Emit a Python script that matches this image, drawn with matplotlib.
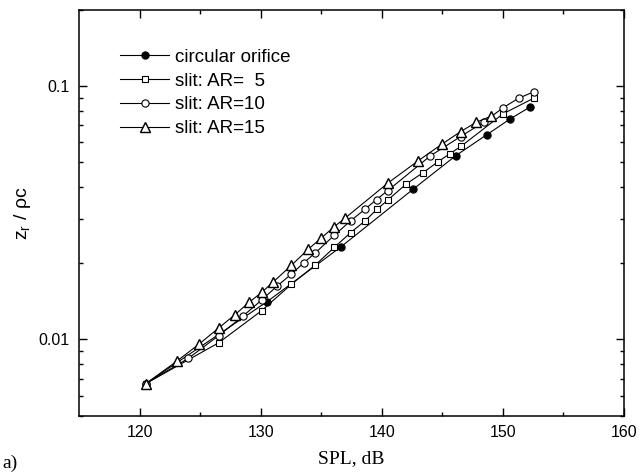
import numpy as np
import matplotlib
matplotlib.use("Agg")
import matplotlib.pyplot as plt
from matplotlib.ticker import LogLocator, NullFormatter, FixedLocator

# -----------------------------
# Data
# -----------------------------

spl_circ = [120.5, 130.5, 136.6, 142.6, 146.1, 148.65, 150.6, 152.2]
z_circ = [0.0067, 0.0141, 0.0232, 0.0393, 0.0532, 0.0643, 0.0743, 0.0826]

spl_ar5 = [120.5, 126.5, 130.06, 132.5, 134.5, 136.06, 137.4, 138.6, 139.6,
           140.47, 142.0, 143.4, 144.6, 145.6, 146.55, 150.0, 152.6]
z_ar5 = [0.0067, 0.0097, 0.0130, 0.0165, 0.0197, 0.0231, 0.0264, 0.0294, 0.0327,
         0.0355, 0.0411, 0.0456, 0.0502, 0.0541, 0.0580, 0.0778, 0.0900]

spl_ar10 = [120.5, 124.0, 126.5, 128.5, 130.06, 131.3, 132.5, 133.55, 134.5, 136.06,
            137.4, 138.6, 139.55, 140.47, 144.0, 146.5, 148.4, 150.0, 151.3, 152.6]
z_ar10 = [0.0067, 0.00843, 0.01035, 0.01236, 0.01432, 0.0162, 0.0181, 0.0201, 0.0220, 0.0258,
          0.0294, 0.0327, 0.0357, 0.0387, 0.0531, 0.0633, 0.0721, 0.0822, 0.0897, 0.0953]

spl_ar15 = [120.5, 123.03, 124.9, 126.5, 127.85, 129.0, 130.06, 130.97, 132.5, 133.9,
            135.0, 136.06, 136.97, 140.47, 143.0, 144.96, 146.5, 147.8, 149.0]
z_ar15 = [0.0067, 0.0082, 0.0096, 0.0111, 0.01253, 0.0140, 0.01535, 0.0168, 0.0196, 0.0227,
          0.0252, 0.0279, 0.0302, 0.0414, 0.0508, 0.0591, 0.0662, 0.0721, 0.0761]

labels = ["circular orifice", "slit: AR=  5", "slit: AR=10", "slit: AR=15"]

# -----------------------------
# Figure
# -----------------------------

fig = plt.figure(figsize=(6.39, 4.74), dpi=100)
ax = fig.add_axes([0.1244, 0.1230, 0.8521, 0.8559])

ms = 5.2
mew = 0.8
lw = 0.8

ax.plot(spl_circ, z_circ, '-', color='black', lw=lw, marker='o', ms=ms,
        mfc='black', mec='black', mew=mew, label=labels[0])
ax.plot(spl_ar5, z_ar5, '-', color='black', lw=lw, marker='s', ms=ms * 0.95,
        mfc='white', mec='black', mew=mew, label=labels[1])
ax.plot(spl_ar10, z_ar10, '-', color='black', lw=lw, marker='o', ms=ms,
        mfc='white', mec='black', mew=mew, label=labels[2])
ax.plot(spl_ar15, z_ar15, '-', color='black', lw=lw, marker='^', ms=ms * 1.25,
        mfc='white', mec='black', mew=mew * 1.3, label=labels[3])

ax.set_yscale('log')
ax.set_xlim(115, 160)
ax.set_ylim(0.005, 0.2)

ax.xaxis.set_major_locator(FixedLocator([120, 130, 140, 150, 160]))
ax.xaxis.set_minor_locator(FixedLocator([125, 135, 145, 155]))
ax.yaxis.set_major_locator(FixedLocator([0.01, 0.1]))
ax.yaxis.set_minor_locator(LogLocator(base=10, subs=np.arange(2, 10)))
ax.yaxis.set_minor_formatter(NullFormatter())
ax.set_yticklabels(["0.01", "0.1"])

for lab in ax.get_xticklabels() + ax.get_yticklabels():
    lab.set_fontfamily('Liberation Sans')
    lab.set_fontsize(11.5)

ax.tick_params(which='both', direction='in', top=True, right=True, width=1)
ax.tick_params(which='major', length=6, pad=7)
ax.tick_params(which='minor', length=3)

for sp in ax.spines.values():
    sp.set_linewidth(1.1)

ax.set_xlabel("SPL, dB", family='Liberation Serif', fontsize=14, labelpad=7)
ax.set_ylabel(r"z$_\mathregular{r}$ / ρc", family='Liberation Sans', fontsize=14, labelpad=4)

leg = ax.legend(loc='upper left', bbox_to_anchor=(0.074, 0.905), frameon=False,
                prop={'family': 'Liberation Sans', 'size': 13.5},
                handlelength=2.65, handletextpad=0.3, labelspacing=0.36,
                borderpad=0, borderaxespad=0)

fig.text(0.003, 0.004, "a)", family='Liberation Serif', fontsize=14, va='bottom')

fig.savefig("out.png", dpi=100)
